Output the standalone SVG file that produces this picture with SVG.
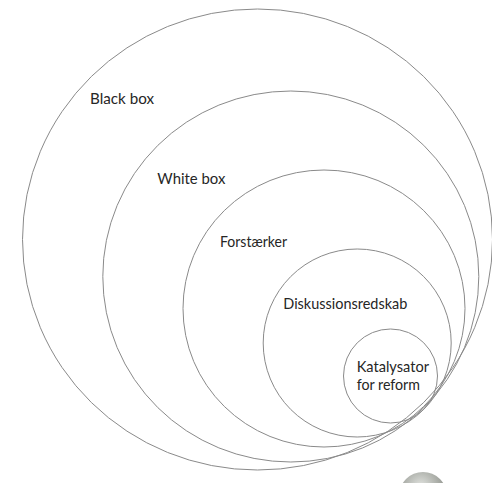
<svg xmlns="http://www.w3.org/2000/svg" width="492" height="483" viewBox="0 0 492 483">
<defs>
<style>
.ring{fill:none;stroke:#8a8a8a;stroke-width:1}
.lbl{font-family:Lato,"Open Sans","Liberation Sans",sans-serif;font-size:16px;fill:#262626}
</style>
<radialGradient id="sph" cx="0.45" cy="0.3" r="0.7">
<stop offset="0" stop-color="#e2e4e0"/>
<stop offset="0.6" stop-color="#a3a6a0"/>
<stop offset="1" stop-color="#6a6d68"/>
</radialGradient>
</defs>
<rect width="492" height="483" fill="#ffffff"/>
<circle cx="423" cy="496" r="24" fill="url(#sph)"/>
<g id="black-box">
<ellipse class="ring" cx="257.5" cy="239.5" rx="235" ry="230.5"/>
<text class="lbl" x="90" y="104" textLength="64" lengthAdjust="spacingAndGlyphs">Black box</text>
</g>
<g id="white-box">
<ellipse class="ring" cx="290.8" cy="276.5" rx="188" ry="185.5"/>
<text class="lbl" x="157.3" y="184" textLength="68" lengthAdjust="spacingAndGlyphs">White box</text>
</g>
<g id="forstaerker">
<ellipse class="ring" cx="324" cy="308.5" rx="141" ry="138.5"/>
<text class="lbl" x="220" y="246.7" textLength="67" lengthAdjust="spacingAndGlyphs">Forstærker</text>
</g>
<g id="diskussionsredskab">
<circle class="ring" cx="357.2" cy="343" r="94"/>
<text class="lbl" x="283.3" y="309.3" textLength="124" lengthAdjust="spacingAndGlyphs">Diskussionsredskab</text>
</g>
<g id="katalysator">
<circle class="ring" cx="390.5" cy="376" r="47"/>
<text class="lbl" x="356.7" y="371.7" textLength="72.3" lengthAdjust="spacingAndGlyphs">Katalysator</text>
<text class="lbl" x="356.7" y="390" textLength="63.3" lengthAdjust="spacingAndGlyphs">for reform</text>
</g>
<g id="connectors"/>
</svg>
